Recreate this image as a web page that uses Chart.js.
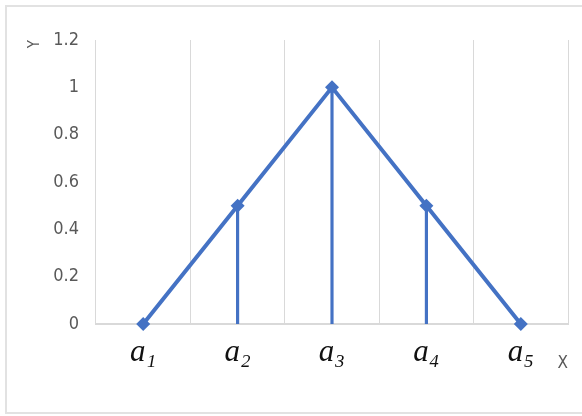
<!DOCTYPE html>
<html>
<head>
<meta charset="utf-8">
<script src="https://cdn.jsdelivr.net/npm/chart.js@4"></script>
<style>
    html, body { margin: 0; padding: 0; background: #ffffff; overflow: hidden; }
    #wrap { position: relative; width: 582px; height: 416px; overflow: hidden; }
    #frame {
        position: absolute; left: 5px; top: 5px; width: 700px; height: 405px;
        border: 2px solid #e2e2e2;
    }
    #chart { position: absolute; left: 0; top: 0; }
</style>
</head>
<body>
<div id="wrap">
    <div id="frame"></div>
    <canvas id="chart" width="582" height="416"></canvas>
</div>
<script>
const categories = ['a\u2081', 'a\u2082', 'a\u2083', 'a\u2084', 'a\u2085'];
const yValues = [0, 0.5, 1, 0.5, 0];
const yTicks = [0, 0.2, 0.4, 0.6, 0.8, 1, 1.2];

const blue = '#4472c4';
const gridGray = '#d9d9d9';
const labelGray = '#595959';
const narrowFont = '"DejaVu Sans Condensed", "Open Sans", sans-serif';

function renderChart() {
    const canvas = document.getElementById('chart');
    if (!canvas || typeof Chart === 'undefined') return;

    new Chart(canvas, {
        data: {
            labels: categories,
            datasets: [
                {
                    type: 'line',
                    label: 'Y',
                    data: yValues,
                    borderColor: blue,
                    backgroundColor: blue,
                    borderWidth: 4,
                    tension: 0,
                    pointStyle: 'rectRot',
                    pointRadius: 7,
                    pointBorderWidth: 0,
                    clip: false,
                    order: 0,
                },
                {
                    // drop lines
                    type: 'bar',
                    label: 'drop',
                    data: yValues,
                    backgroundColor: blue,
                    barThickness: 2.5,
                    order: 1,
                },
            ],
        },
        options: {
            responsive: false,
            animation: false,
            layout: { padding: { top: 40, right: 14, left: 0, bottom: 0 } },
            plugins: {
                legend: { display: false },
                tooltip: { enabled: false },
            },
            scales: {
                x: {
                    type: 'category',
                    offset: true,
                    grid: { display: true, offset: true, color: gridGray, lineWidth: 1, drawTicks: false },
                    border: { display: true, color: gridGray, width: 2 },
                    ticks: {
                        padding: 10,
                        color: '#111111',
                        font: { family: '"Liberation Serif", "DejaVu Serif", serif', style: 'italic', size: 31 },
                    },
                    title: {
                        display: true,
                        text: 'X',
                        align: 'end',
                        color: labelGray,
                        font: { family: narrowFont, size: 17 },
                        padding: { top: 0, bottom: 42 },
                    },
                    afterFit: (scale) => { scale.height = 416 - 324; },
                },
                y: {
                    min: 0,
                    max: 1.2,
                    grid: { display: false, drawTicks: false },
                    border: { display: false },
                    afterBuildTicks: (scale) => { scale.ticks = yTicks.map((v) => ({ value: v })); },
                    ticks: {
                        padding: 17,
                        color: labelGray,
                        font: { family: narrowFont, size: 18 },
                        callback: (v) => String(Math.round(v * 10) / 10),
                    },
                    title: {
                        display: true,
                        text: 'Y',
                        align: 'end',
                        color: labelGray,
                        font: { family: narrowFont, size: 15 },
                        padding: { top: 26, bottom: 0 },
                    },
                    afterFit: (scale) => { scale.width = 96; },
                },
            },
        },
    });
}

renderChart();
</script>
</body>
</html>
